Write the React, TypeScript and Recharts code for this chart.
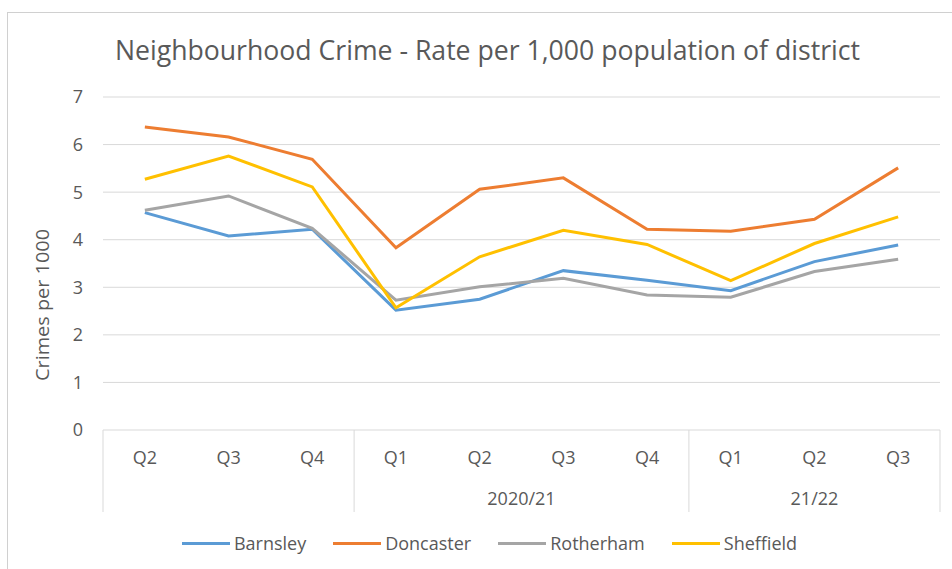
import { LineChart, Line, XAxis, YAxis, CartesianGrid, Legend } from "recharts";

const quarters = ["Q2", "Q3", "Q4", "Q1", "Q2", "Q3", "Q4", "Q1", "Q2", "Q3"];
const yearGroups = ["", "", "", "2020/21", "2020/21", "2020/21", "2020/21", "21/22", "21/22", "21/22"];

const barnsley = [4.57, 4.08, 4.22, 2.52, 2.75, 3.35, 3.15, 2.93, 3.54, 3.89];
const doncaster = [6.37, 6.16, 5.69, 3.83, 5.06, 5.3, 4.22, 4.18, 4.43, 5.51];
const rotherham = [4.62, 4.92, 4.24, 2.73, 3.01, 3.19, 2.84, 2.79, 3.33, 3.59];
const sheffield = [5.27, 5.76, 5.11, 2.57, 3.64, 4.2, 3.9, 3.14, 3.92, 4.48];

const yTicks = [0, 1, 2, 3, 4, 5, 6, 7];

const data = quarters.map((q, i) => ({
  quarter: q,
  year: yearGroups[i],
  Barnsley: barnsley[i],
  Doncaster: doncaster[i],
  Rotherham: rotherham[i],
  Sheffield: sheffield[i],
}));

const FONT = "'Open Sans', 'Noto Sans', sans-serif";
const TEXT = "#595959";
const GRID = "#d9d9d9";
const PLOT_W = 837;
const HALF_BAND = PLOT_W / quarters.length / 2;

// group label + separators for the second level of the category axis
function GroupTick(props: any) {
  const { x, y, index } = props;
  const n = quarters.length;
  const band = PLOT_W / n;
  const isStart = index === 0 || yearGroups[index] !== yearGroups[index - 1];
  const isLast = index === n - 1;
  let end = index;
  while (end + 1 < n && yearGroups[end + 1] === yearGroups[index]) end++;
  return (
    <g>
      {isStart && (
        <line x1={x - band / 2} x2={x - band / 2} y1={y - 62} y2={y + 20} stroke={GRID} />
      )}
      {isLast && (
        <line x1={x + band / 2} x2={x + band / 2} y1={y - 62} y2={y + 20} stroke={GRID} />
      )}
      {isStart && yearGroups[index] && (
        <text
          x={x + ((end - index) * band) / 2}
          y={y}
          dy="0.71em"
          textAnchor="middle"
          fill={TEXT}
          fontSize={18}
        >
          {yearGroups[index]}
        </text>
      )}
    </g>
  );
}

function LegendContent(props: any) {
  const { payload } = props;
  return (
    <div
      style={{
        height: 57,
        boxSizing: "border-box",
        paddingTop: 5,
        paddingLeft: 27,
        display: "flex",
        justifyContent: "center",
        alignItems: "center",
        fontSize: 18,
        color: TEXT,
      }}
    >
      {(payload || []).map((entry: any, i: number) => (
        <span
          key={entry.value}
          style={{ display: "flex", alignItems: "center", marginLeft: i === 0 ? 0 : 27 }}
        >
          <span style={{ width: 48, height: 3, background: entry.color, marginRight: 4 }} />
          <span>{entry.value}</span>
        </span>
      ))}
    </div>
  );
}

export default function App() {
  return (
    <div
      style={{
        position: "absolute",
        left: 0,
        top: 0,
        width: 952,
        height: 569,
        overflow: "hidden",
        background: "#fff",
        fontFamily: FONT,
      }}
    >
      <div
        style={{
          position: "absolute",
          left: 7,
          top: 12,
          width: 980,
          height: 600,
          border: "1px solid #d0d0d0",
        }}
      />
      <svg
        width={952}
        height={90}
        style={{ position: "absolute", left: 0, top: 0, pointerEvents: "none" }}
      >
        <text
          x={487.5}
          y={60}
          textAnchor="middle"
          fill={TEXT}
          fontSize={27}
          textLength={745}
          lengthAdjust="spacingAndGlyphs"
        >
          Neighbourhood Crime - Rate per 1,000 population of district
        </text>
      </svg>
      <div style={{ position: "absolute", left: 0, top: 0 }}>
        <LineChart
          width={952}
          height={569}
          data={data}
          margin={{ top: 97, right: 12, left: 0, bottom: 0 }}
        >
          <CartesianGrid vertical={false} stroke={GRID} />
          <XAxis
            xAxisId="a"
            dataKey="quarter"
            padding={{ left: HALF_BAND, right: HALF_BAND }}
            height={41}
            axisLine={false}
            tickLine={false}
            tickSize={0}
            tickMargin={21}
            interval={0}
            tick={{ fill: TEXT, fontSize: 18 }}
          />
          <XAxis
            xAxisId="b"
            dataKey="year"
            padding={{ left: HALF_BAND, right: HALF_BAND }}
            height={41}
            axisLine={false}
            tickLine={false}
            tickSize={0}
            tickMargin={21}
            interval={0}
            tick={<GroupTick />}
          />
          <YAxis
            domain={[0, 7]}
            ticks={yTicks}
            width={103}
            axisLine={false}
            tickLine={false}
            tickSize={0}
            tickMargin={20}
            tick={{ fill: TEXT, fontSize: 18 }}
            label={() => (
              <text
                x={42}
                y={305}
                transform="rotate(-90 42 305)"
                textAnchor="middle"
                dominantBaseline="central"
                fill={TEXT}
                fontSize={19}
                textLength={152}
                lengthAdjust="spacingAndGlyphs"
              >
                Crimes per 1000
              </text>
            )}
          />
          <Legend verticalAlign="bottom" content={<LegendContent />} wrapperStyle={{ left: 0, width: 952 }} />
          <Line xAxisId="a" type="linear" dataKey="Barnsley" stroke="#5B9BD5" strokeWidth={3} dot={false} isAnimationActive={false} />
          <Line xAxisId="a" type="linear" dataKey="Doncaster" stroke="#ED7D31" strokeWidth={3} dot={false} isAnimationActive={false} />
          <Line xAxisId="a" type="linear" dataKey="Rotherham" stroke="#A5A5A5" strokeWidth={3} dot={false} isAnimationActive={false} />
          <Line xAxisId="a" type="linear" dataKey="Sheffield" stroke="#FFC000" strokeWidth={3} dot={false} isAnimationActive={false} />
        </LineChart>
      </div>
    </div>
  );
}
